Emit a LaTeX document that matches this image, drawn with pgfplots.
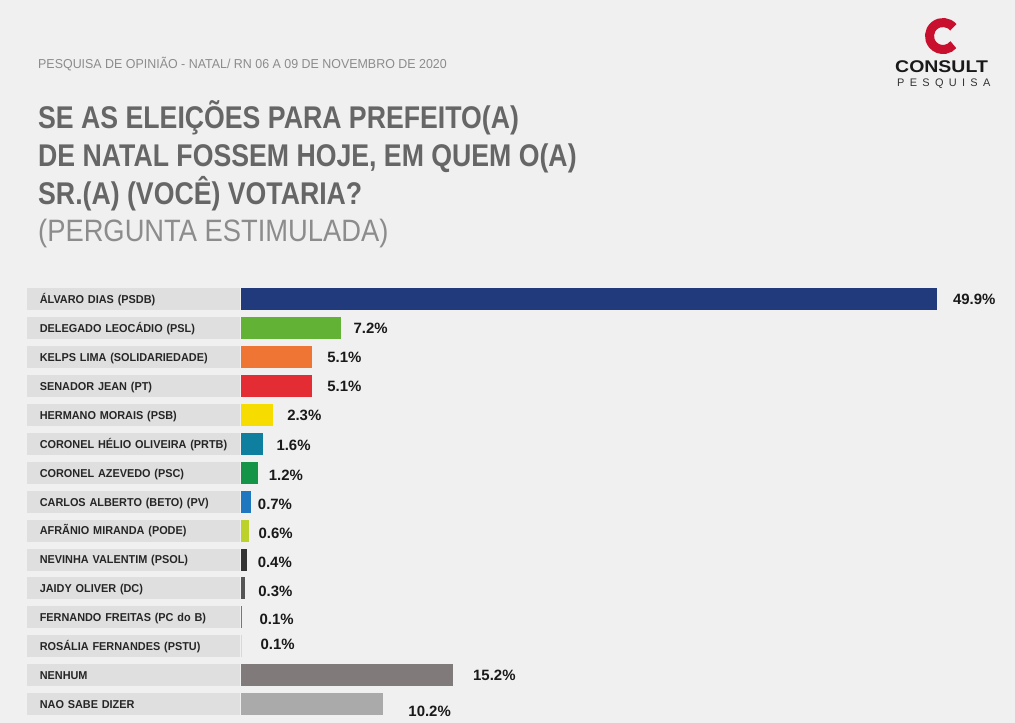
\documentclass[border=0pt]{standalone}
\usepackage{fontspec}
\setmainfont{Liberation Sans}
\newfontfamily\condfont[FakeStretch=0.85]{Liberation Sans}
\newfontfamily\lightfont[FakeStretch=0.885]{Liberation Sans}
\newfontfamily\subfont[FakeStretch=0.96]{Liberation Sans}
\newfontfamily\labfont[FakeStretch=0.95]{Liberation Sans}
\newfontfamily\logofont[FakeStretch=1.15]{Liberation Sans}
\usepackage{pgfplots}
\pgfplotsset{compat=1.18}

\definecolor{bg}{HTML}{F0F0F0}
\definecolor{band}{HTML}{DFDFDF}
\definecolor{titlegray}{HTML}{666666}
\definecolor{lightgray}{HTML}{8C8C8C}
\definecolor{logored}{HTML}{C8102E}
\definecolor{c1}{HTML}{213A7C}
\definecolor{c2}{HTML}{62B236}
\definecolor{c3}{HTML}{EE7533}
\definecolor{c4}{HTML}{E42C34}
\definecolor{c5}{HTML}{F7DC00}
\definecolor{c6}{HTML}{0F7FA0}
\definecolor{c7}{HTML}{139447}
\definecolor{c8}{HTML}{1F77C0}
\definecolor{c9}{HTML}{BCD12A}
\definecolor{c10}{HTML}{333333}
\definecolor{c11}{HTML}{555555}
\definecolor{c12}{HTML}{777777}
\definecolor{c13}{HTML}{D8D8D8}
\definecolor{c14}{HTML}{817A7A}
\definecolor{c15}{HTML}{AAAAAA}

% one bar: colour, row, value, label xshift, label yshift
\newcommand{\cbar}[5]{%
  \addplot[fill=#1, every node near coord/.append style={xshift=#4, yshift=#5}]
    coordinates {(#3,#2)};}

\begin{document}
\begin{tikzpicture}
\fill[bg] (0,0) rectangle (1015bp,-723bp);

% header
\node[anchor=base west, inner sep=0, text=lightgray, font=\subfont\fontsize{13}{13}\selectfont]
  at (38bp,-68bp) {PESQUISA DE OPINIÃO - NATAL/ RN 06 A 09 DE NOVEMBRO DE 2020};
\begin{scope}[every node/.style={anchor=base west, inner sep=0, text=titlegray,
    font=\condfont\bfseries\fontsize{31.5}{31.5}\selectfont}]
\node at (38bp,-128bp) {SE AS ELEIÇÕES PARA PREFEITO(A)};
\node at (38bp,-166bp) {DE NATAL FOSSEM HOJE, EM QUEM O(A)};
\node at (38bp,-204bp) {SR.(A) (VOCÊ) VOTARIA?};
\end{scope}
\node[anchor=base west, inner sep=0, text=lightgray, font=\lightfont\fontsize{31}{31}\selectfont]
  at (38bp,-241bp) {(PERGUNTA ESTIMULADA)};

% logo
\draw[logored, line width=9bp] (943bp,-36bp) ++(40:13.5bp) arc[start angle=40, end angle=320, radius=13.5bp];
\node[anchor=base west, inner sep=0, text=black!90, font=\logofont\bfseries\fontsize{17}{17}\selectfont]
  at (895bp,-72bp) {CONSULT};
\node[anchor=base west, inner sep=0, text=black!80, font=\fontsize{11}{11}\selectfont]
  at (897bp,-86bp) {P\hspace{5.3bp}E\hspace{5.3bp}S\hspace{5.3bp}Q\hspace{5.3bp}U\hspace{5.3bp}I\hspace{5.3bp}S\hspace{5.3bp}A};

\begin{axis}[
    at={(241bp,-285bp)}, anchor=north west,
    scale only axis, width=767bp, height=433.5bp,
    xmin=0, xmax=55, ymin=-0.5, ymax=14.5, y dir=reverse,
    xbar, bar width=22bp, bar shift=0pt,
    axis line style={draw=none}, tick style={draw=none},
    major tick length=0pt, xtick=\empty,
    ytick={0,...,14},
    yticklabels={ÁLVARO DIAS (PSDB), DELEGADO LEOCÁDIO (PSL), KELPS LIMA (SOLIDARIEDADE),
      SENADOR JEAN (PT), HERMANO MORAIS (PSB), CORONEL HÉLIO OLIVEIRA (PRTB),
      CORONEL AZEVEDO (PSC), CARLOS ALBERTO (BETO) (PV), AFRÃNIO MIRANDA (PODE),
      NEVINHA VALENTIM (PSOL), JAIDY OLIVER (DC), FERNANDO FREITAS (PC do B),
      ROSÁLIA FERNANDES (PSTU), NENHUM, NAO SABE DIZER},
    yticklabel style={anchor=east, xshift=-1bp, fill=band, text=black!85,
      font=\labfont\bfseries\fontsize{11.5}{11.5}\selectfont\hspace*{13bp},
      inner xsep=0pt, inner ysep=0pt,
      text width=213bp, align=left, minimum height=22bp, text height=8.5bp, text depth=0pt},
    clip=false,
    every axis plot/.append style={draw=none},
    point meta=x,
    nodes near coords={\pgfmathprintnumber[fixed, fixed zerofill, precision=1, assume math mode=true]{\pgfplotspointmeta}\%},
    every node near coord/.append style={anchor=west, inner sep=0pt, text=black!90,
      font=\bfseries\fontsize{15}{15}\selectfont},
  ]
  \cbar{c1}{0}{49.9}{16bp}{0bp}
  \cbar{c2}{1}{7.2}{12bp}{0bp}
  \cbar{c3}{2}{5.1}{15bp}{0bp}
  \cbar{c4}{3}{5.1}{15bp}{0bp}
  \cbar{c5}{4}{2.3}{14bp}{0bp}
  \cbar{c6}{5}{1.6}{13bp}{-1bp}
  \cbar{c7}{6}{1.2}{11bp}{-2bp}
  \cbar{c8}{7}{0.7}{7bp}{-3bp}
  \cbar{c9}{8}{0.6}{9bp}{-3bp}
  \cbar{c10}{9}{0.4}{11bp}{-3bp}
  \cbar{c11}{10}{0.3}{13bp}{-3bp}
  \cbar{c12}{11}{0.1}{17bp}{-2bp}
  \cbar{c13}{12}{0.1}{18bp}{2bp}
  \cbar{c14}{13}{15.2}{20bp}{0bp}
  \cbar{c15}{14}{10.2}{25bp}{-7bp}
\end{axis}

\pgfresetboundingbox
\useasboundingbox (0,0) rectangle (1015bp,-723bp);
\end{tikzpicture}
\end{document}
